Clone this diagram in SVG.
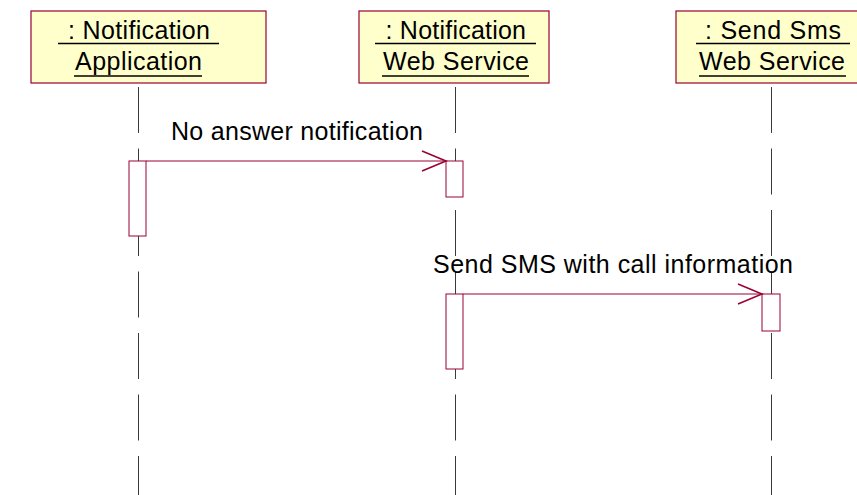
<svg xmlns="http://www.w3.org/2000/svg" width="857" height="495" viewBox="0 0 857 495">
<style>
.obj{fill:#FFFFCC;stroke:#990033;stroke-width:1.2}
.lbl{font-family:"Liberation Sans",Arial,sans-serif;font-size:25px;fill:#000}
.ul{stroke:#000;stroke-width:1.6}
.life{stroke:#3a3a3a;stroke-width:1;stroke-dasharray:46 15.5;fill:none}
.act{fill:#fff;stroke:#990033;stroke-width:1}
.msg{stroke:#990033;stroke-width:1;fill:none}
.head{stroke:#990033;stroke-width:1.6;fill:none}
</style>
<rect width="857" height="495" fill="#fff"/>
<g id="lifelines">
<line class="life" x1="138.5" y1="87" x2="138.5" y2="495"/>
<line class="life" x1="455.5" y1="87" x2="455.5" y2="495"/>
<line class="life" x1="771.5" y1="87" x2="771.5" y2="495"/>
</g>
<g id="node-notification-application">
<rect class="obj" x="31" y="11" width="235" height="72"/>
<text class="lbl" x="68" y="39" textLength="142" lengthAdjust="spacing">: Notification</text>
<line class="ul" x1="58" y1="43.5" x2="219" y2="43.5"/>
<text class="lbl" x="75" y="70" textLength="127" lengthAdjust="spacing">Application</text>
<line class="ul" x1="74" y1="76" x2="202" y2="76"/>
</g>
<g id="node-notification-web-service">
<rect class="obj" x="359" y="11" width="190" height="72"/>
<text class="lbl" x="385.5" y="39" textLength="140.5" lengthAdjust="spacing">: Notification</text>
<line class="ul" x1="375" y1="43.5" x2="536" y2="43.5"/>
<text class="lbl" x="383" y="70" textLength="146" lengthAdjust="spacing">Web Service</text>
<line class="ul" x1="382" y1="76" x2="529" y2="76"/>
</g>
<g id="node-send-sms-web-service">
<rect class="obj" x="676" y="11" width="190" height="72"/>
<text class="lbl" x="705" y="39" textLength="136" lengthAdjust="spacing">: Send Sms</text>
<line class="ul" x1="696" y1="43.5" x2="850" y2="43.5"/>
<text class="lbl" x="699" y="70" textLength="146" lengthAdjust="spacing">Web Service</text>
<line class="ul" x1="699" y1="76" x2="846" y2="76"/>
</g>
<g id="activations">
<rect class="act" x="129" y="161" width="17" height="75"/>
<rect class="act" x="446" y="161" width="17" height="36"/>
<rect class="act" x="446" y="294" width="17" height="75"/>
<rect class="act" x="762" y="294" width="18" height="37"/>
</g>
<g id="connectors">
<g id="msg-no-answer">
<line class="msg" x1="146" y1="161" x2="446" y2="161"/>
<polyline class="head" points="422,151 446,161 422,171"/>
<text class="lbl" x="171" y="140" textLength="252" lengthAdjust="spacing">No answer notification</text>
</g>
<g id="msg-send-sms">
<line class="msg" x1="463" y1="294" x2="762" y2="294"/>
<polyline class="head" points="738,284 762,294 738,304"/>
<text class="lbl" x="433" y="273" textLength="360" lengthAdjust="spacing">Send SMS with call information</text>
</g>
</g>
</svg>
